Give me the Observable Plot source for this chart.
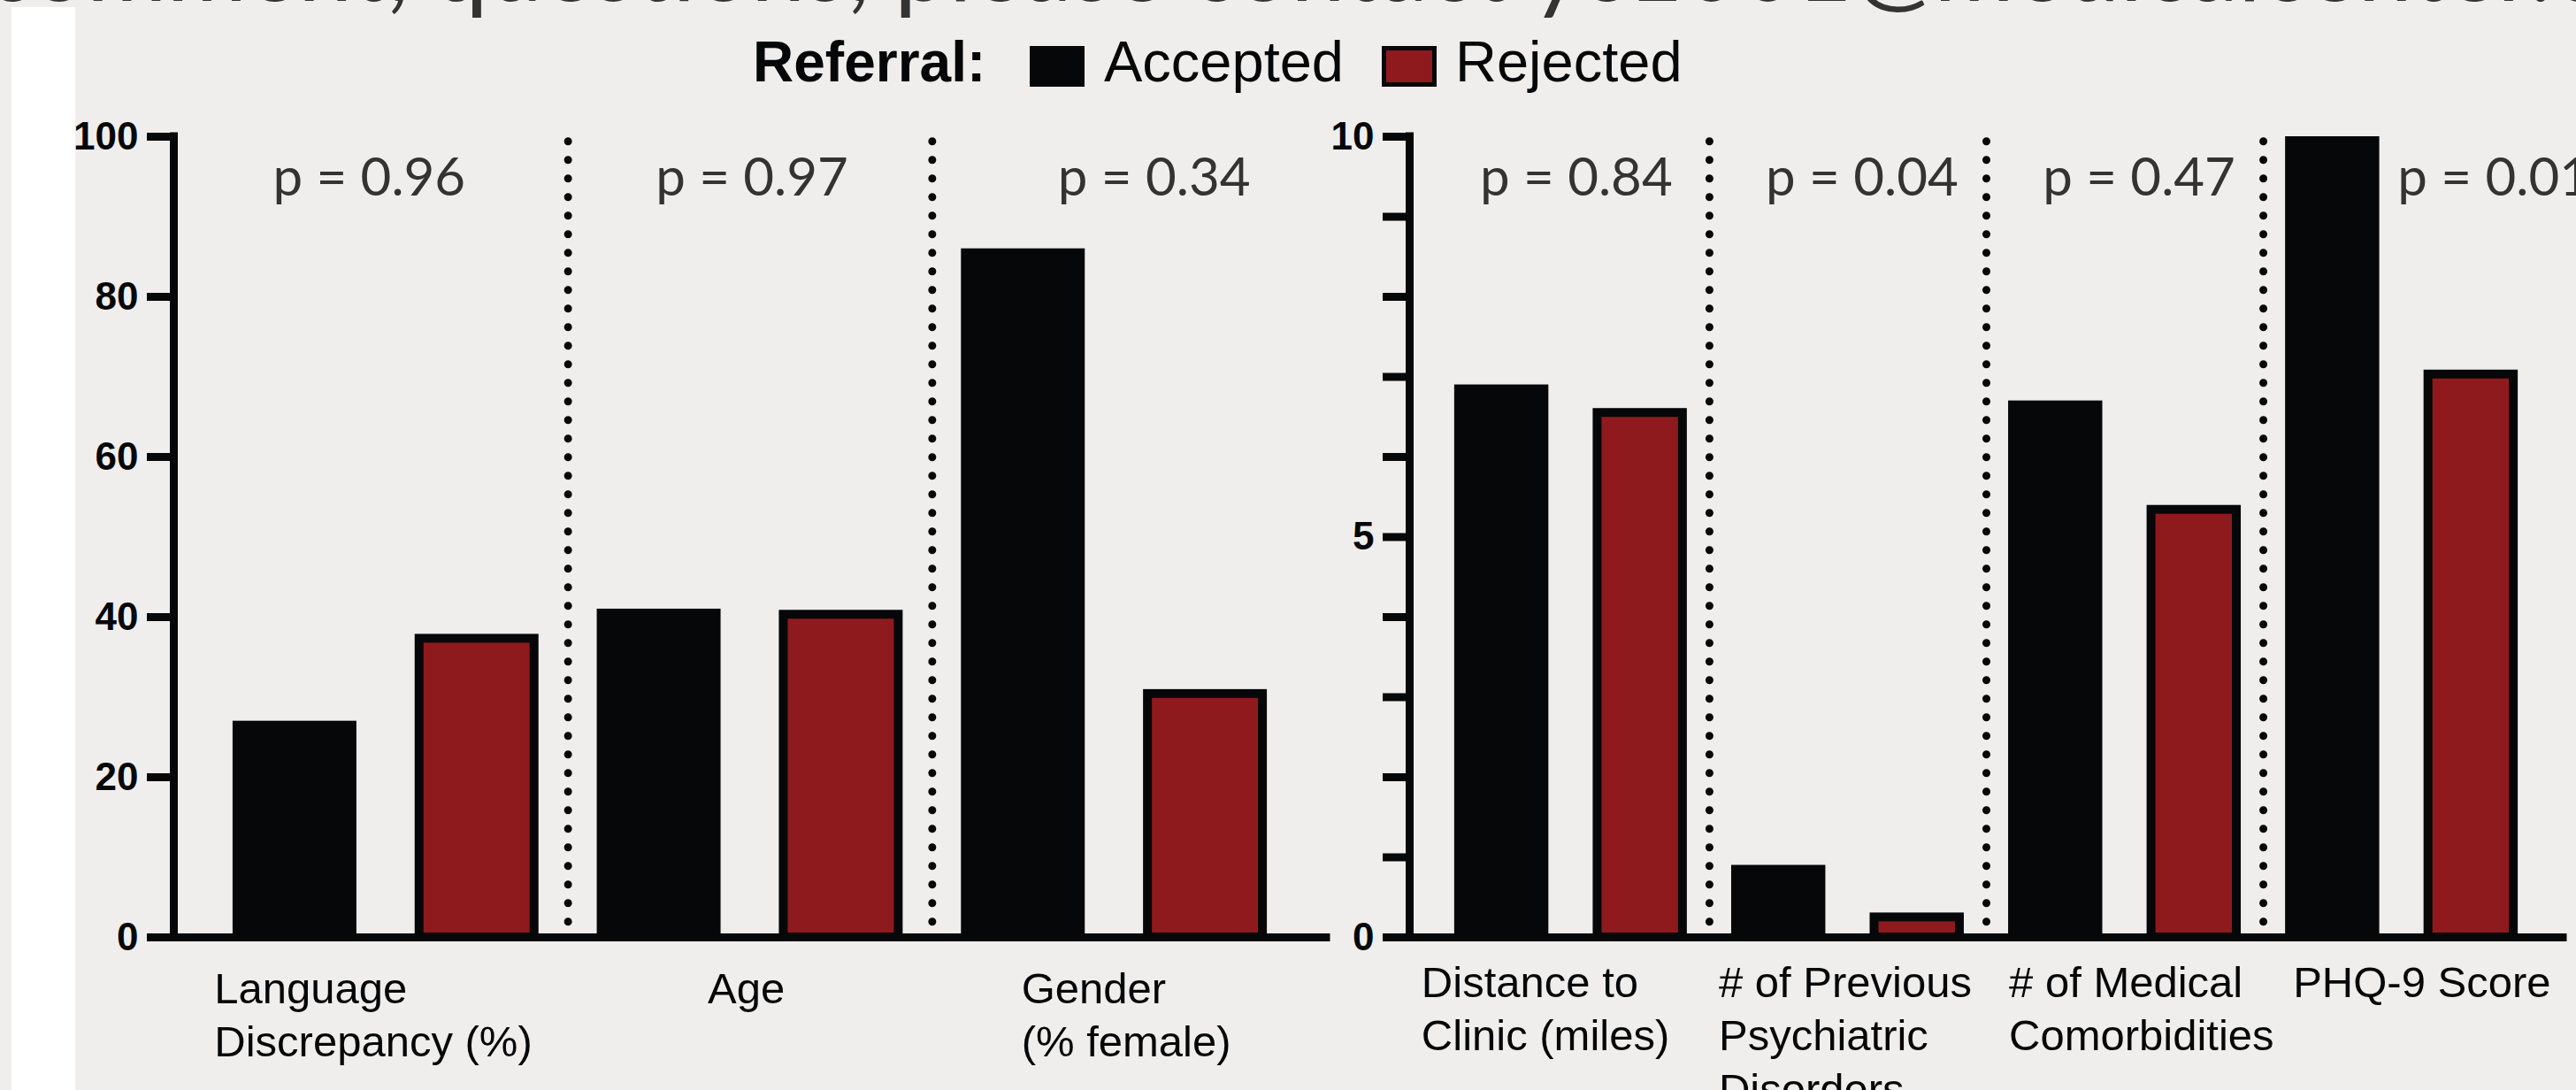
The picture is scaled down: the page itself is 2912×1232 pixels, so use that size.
<!DOCTYPE html>
<html>
<head>
<meta charset="utf-8">
<script src="https://cdn.jsdelivr.net/npm/d3@7"></script>
<script src="https://cdn.jsdelivr.net/npm/@observablehq/plot@0.6"></script>
<style>
html, body { margin: 0; padding: 0; background: #efeeec; }
#page { position: relative; width: 2912px; height: 1232px; overflow: hidden; background: #efeeec; }
#strip { position: absolute; left: 13px; top: 8px; width: 72px; height: 1224px; background: #ffffff; }
.panel { position: absolute; top: 0; }
.panel svg { overflow: visible; }
.panel g[aria-label^="y-axis"] line,
.panel g[aria-label="y-axis tick"] path { stroke: #060708; stroke-width: 9px; }
.panel g[aria-label^="y-axis"] text { font-family: "Liberation Sans", Arial, sans-serif; font-weight: 700; font-size: 44px; fill: #060708; }
#overlay { position: absolute; left: 0; top: 0; pointer-events: none; }
</style>
</head>
<body>
<div id="page">
  <div id="strip"></div>
  <div id="left" class="panel"></div>
  <div id="right" class="panel"></div>
  <div id="overlay"></div>
</div>
<script>
// ---------- data ----------
const seriesNames = ["Accepted", "Rejected"];
const seriesColors = ["#060708", "#8f1a1e"];
const legendTitle = "Referral:";
const headerText = "comment, questions, please contact yc1001@medicalcenter.edu";

const leftCategories = ["Language\nDiscrepancy (%)", "Age", "Gender\n(% female)"];
const leftAccepted = [27, 41, 86];
const leftRejected = [37.3, 40.3, 30.4];
const leftPValues = ["p = 0.96", "p = 0.97", "p = 0.34"];
const leftTicks = [0, 20, 40, 60, 80, 100];
const leftTickLabels = [0, 20, 40, 60, 80, 100];

const rightCategories = ["Distance to\nClinic (miles)", "# of Previous\nPsychiatric\nDisorders", "# of Medical\nComorbidities", "PHQ-9 Score"];
const rightAccepted = [6.9, 0.9, 6.7, 10];
const rightRejected = [6.55, 0.25, 5.34, 7.03];
const rightPValues = ["p = 0.84", "p = 0.04", "p = 0.47", "p = 0.01"];
const rightTicks = [0, 1, 2, 3, 4, 5, 6, 7, 8, 9, 10];
const rightTickLabels = [0, 5, 10];

// ---------- layout ----------
const INK = "#060708";
const PAD = 0.665;      // outer padding in bar slots
const HALF = 0.34;      // half bar width in bar slots
const H = 1232, MT = 154, MB = 173;

function panel(opts) {
  const {categories, accepted, rejected, pValues, ticks, tickLabels,
         width, marginLeft, marginRight, pShift, labelShift, labelDy} = opts;
  const n = categories.length;
  const yMax = d3.max(ticks);
  const bars = [];
  categories.forEach((c, i) => {
    bars.push({pos: 2 * i, value: accepted[i], series: seriesNames[0]});
    bars.push({pos: 2 * i + 1, value: rejected[i], series: seriesNames[1]});
  });
  const seps = d3.range(n - 1).map(i => 2 * i + 1.5);
  const centers = d3.range(n).map(i => 2 * i + 0.5);
  const xDomain = [-PAD, 2 * n - 1 + PAD];

  const marks = [
    // dotted separators
    Plot.ruleX(seps, {x: d => d, y1: () => yMax * 0.019, y2: () => yMax * 1.013,
      stroke: INK, strokeWidth: 9, strokeDasharray: "0 21", strokeLinecap: "round"}),
    // accepted bars
    Plot.rect(bars.filter(d => d.series === seriesNames[0]), {
      x1: d => d.pos - HALF, x2: d => d.pos + HALF, y1: () => 0, y2: d => d.value,
      fill: seriesColors[0]}),
    // rejected bars
    Plot.rect(bars.filter(d => d.series === seriesNames[1]), {
      x1: d => d.pos - HALF, x2: d => d.pos + HALF, y1: () => 0, y2: d => d.value,
      fill: seriesColors[1], stroke: INK, strokeWidth: 10, insetLeft: 5, insetRight: 5}),
    // axis line and baseline
    Plot.ruleX([xDomain[0]], {x: d => d, stroke: INK, strokeWidth: 9, strokeLinecap: "square"}),
    Plot.ruleY([0], {y: d => d, stroke: INK, strokeWidth: 9, strokeLinecap: "square"}),
  ];
  pValues.forEach((p, i) => {
    marks.push(Plot.text([p], {x: () => centers[i], y: () => yMax, text: d => d,
      dy: 47, dx: pShift[i], lineAnchor: "middle", fontSize: 60,
      fontFamily: "Lato, 'Open Sans', sans-serif", fill: "#333333"}));
  });
  categories.forEach((c, i) => {
    marks.push(Plot.text([c], {x: () => centers[i], y: () => 0, text: d => d,
      dx: labelShift[i], dy: labelDy, textAnchor: "start", lineAnchor: "top",
      lineHeight: 1.24, fontSize: 49, fontFamily: "'Liberation Sans', Arial, sans-serif",
      fill: INK}));
  });

  return Plot.plot({
    width, height: H,
    marginLeft, marginRight, marginTop: MT, marginBottom: MB,
    style: {background: "transparent", overflow: "visible"},
    x: {domain: xDomain, axis: null},
    y: {domain: [0, yMax], ticks, tickSize: 30, tickPadding: 10, label: null,
        tickFormat: d => tickLabels.includes(d) ? String(d) : ""},
    marks
  });
}

const leftDiv = document.getElementById("left");
leftDiv.style.left = "0px";
leftDiv.appendChild(panel({
  categories: leftCategories, accepted: leftAccepted, rejected: leftRejected,
  pValues: leftPValues, ticks: leftTicks, tickLabels: leftTickLabels,
  width: 1540, marginLeft: 196, marginRight: 41,
  pShift: [-19, 2, 45], labelShift: [-194, -48, -105], labelDy: 31
}));

const rightDiv = document.getElementById("right");
rightDiv.style.left = "1450px";
rightDiv.appendChild(panel({
  categories: rightCategories, accepted: rightAccepted, rejected: rightRejected,
  pValues: rightPValues, ticks: rightTicks, tickLabels: rightTickLabels,
  width: 1462, marginLeft: 143, marginRight: 15,
  pShift: [6, 16, 16, 104], labelShift: [-169, -146, -131, -123], labelDy: 24
}));

// ---------- header + legend overlay ----------
const svg = d3.select("#overlay").append("svg")
  .attr("width", 2912).attr("height", 1232);
svg.append("text").attr("x", -16).attr("y", 1)
  .attr("font-family", "Lato, 'Open Sans', sans-serif").attr("font-size", 110)
  .attr("fill", "#333333").text(headerText);

const lg = svg.append("g").attr("font-family", "'Liberation Sans', Arial, sans-serif").attr("fill", INK);
lg.append("text").attr("x", 851).attr("y", 92).attr("font-size", 64).attr("font-weight", 700).text(legendTitle);
const legendItems = [
  {name: seriesNames[0], color: seriesColors[0], sx: 1164, tx: 1248},
  {name: seriesNames[1], color: seriesColors[1], sx: 1562, tx: 1645}
];
legendItems.forEach((it, i) => {
  lg.append("rect").attr("x", it.sx + 2.5).attr("y", 54.5).attr("width", 57).attr("height", 41)
    .attr("fill", it.color).attr("stroke", INK).attr("stroke-width", 5);
  lg.append("text").attr("x", it.tx).attr("y", 92).attr("font-size", 65).text(it.name);
});
</script>
</body>
</html>
